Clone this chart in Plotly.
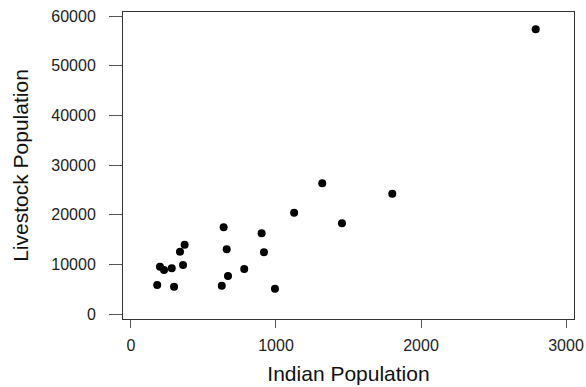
import plotly.graph_objects as go

indian_population = [1125, 1455, 639, 901, 370, 338, 660, 917, 200, 228, 281, 359,
                     781, 669, 181, 297, 626, 993, 1319, 1802, 2791]
livestock_population = [20390, 18260, 17460, 16250, 13950, 12540, 13030, 12420, 9520,
                        8860, 9200, 9865, 9060, 7650, 5840, 5500, 5700, 5090, 26310,
                        24220, 57320]

x_ticks = [0, 1000, 2000, 3000]
y_ticks = [0, 10000, 20000, 30000, 40000, 50000, 60000]

FONT = "Liberation Sans, Arial, sans-serif"

fig = go.Figure(
    go.Scatter(
        x=indian_population,
        y=livestock_population,
        mode="markers",
        marker=dict(color="black", size=8, line=dict(width=0)),
        hoverinfo="x+y",
    )
)

fig.update_layout(
    width=586,
    height=387,
    margin=dict(l=123, r=12, t=12, b=68, autoexpand=False),
    paper_bgcolor="white",
    plot_bgcolor="white",
    showlegend=False,
    font=dict(family=FONT, color="#222222"),
)

fig.update_xaxes(
    range=[-55, 3055],
    automargin=False,
    tickvals=x_ticks,
    ticktext=[str(v) for v in x_ticks],
    ticks="outside",
    ticklen=8,
    tickcolor="#555555",
    showline=True,
    linecolor="#333333",
    linewidth=1,
    mirror=True,
    showgrid=False,
    zeroline=False,
    tickfont=dict(size=16, color="#222222"),
    ticklabelstandoff=4,
    title=dict(text="Indian Population", font=dict(size=21, color="#111111"), standoff=13),
)

fig.update_yaxes(
    range=[-1007, 60805],
    automargin=False,
    tickvals=y_ticks,
    ticktext=[str(v) for v in y_ticks],
    ticks="outside",
    ticklen=13,
    tickcolor="#555555",
    showline=True,
    linecolor="#333333",
    linewidth=1,
    mirror=True,
    showgrid=False,
    zeroline=False,
    tickfont=dict(size=16, color="#222222"),
    ticklabelstandoff=10,
    title=dict(text="Livestock Population", font=dict(size=21, color="#111111"), standoff=16),
)

fig.write_html("out.html")
